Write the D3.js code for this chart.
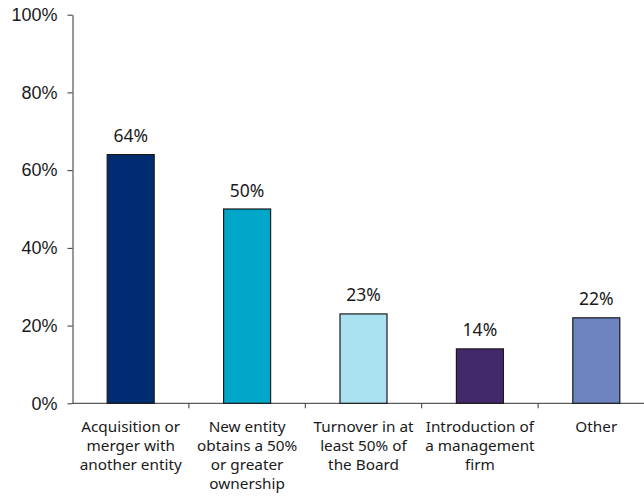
<!DOCTYPE html>
<html>
<head>
<meta charset="utf-8">
<script src="https://cdn.jsdelivr.net/npm/d3@7"></script>
<style>
  html, body { margin: 0; padding: 0; background: #fff; }
  svg { display: block; font-family: "Noto Sans", "Open Sans", sans-serif; }
</style>
</head>
<body>
<svg id="chart" width="644" height="496"></svg>
<script>
// Reasons reported for a change of control
const categories = [
  ["Acquisition or", "merger with", "another entity"],
  ["New entity", "obtains a 50%", "or greater", "ownership"],
  ["Turnover in at", "least 50% of", "the Board"],
  ["Introduction of", "a management", "firm"],
  ["Other"]
];
const values = [64, 50, 23, 14, 22];
const barColors = ["#002d72", "#00a7c8", "#a9e1f0", "#41296b", "#6e84c0"];
const yTicks = [0, 20, 40, 60, 80, 100];

const svg = d3.select("#chart");
const plotLeft = 72.5, plotTop = 14.7, plotBottom = 403.3;
const band = 116.4;
const ids = categories.map((_, i) => i);

const x = d3.scaleBand()
  .domain(ids)
  .range([plotLeft, plotLeft + band * ids.length])
  .paddingInner(0)
  .paddingOuter(0);

const y = d3.scaleLinear().domain([0, 100]).range([plotBottom, plotTop]);

const axisColor = "#333";

// y axis
const yAxis = svg.append("g")
  .attr("transform", `translate(${plotLeft},0)`)
  .call(d3.axisLeft(y).tickValues(yTicks).tickFormat(d => d + "%").tickSize(5).tickSizeOuter(0).tickPadding(10));
yAxis.select(".domain").attr("stroke", axisColor);
yAxis.selectAll(".tick line").attr("stroke", axisColor);
yAxis.selectAll(".tick text")
  .attr("fill", "#1a1a1a")
  .style("font-size", "18px");

// x axis: ticks sit at the boundaries between categories
const xAxisG = svg.append("g").attr("transform", `translate(0,${plotBottom})`);
xAxisG.append("line")
  .attr("x1", plotLeft).attr("x2", x.range()[1])
  .attr("stroke", axisColor);
xAxisG.selectAll("line.sep")
  .data(ids.slice(1))
  .join("line")
  .attr("class", "sep")
  .attr("x1", d => x(d)).attr("x2", d => x(d))
  .attr("y1", 0).attr("y2", 5)
  .attr("stroke", axisColor);

// category labels
const labels = xAxisG.selectAll("text.cat")
  .data(ids)
  .join("text")
  .attr("class", "cat")
  .attr("text-anchor", "middle")
  .attr("fill", "#1a1a1a")
  .style("font-size", "15.3px");
labels.each(function(d) {
  const t = d3.select(this);
  categories[d].forEach((line, k) => {
    t.append("tspan")
      .attr("x", x(d) + x.bandwidth() / 2)
      .attr("y", 28.4 + k * 19.1)
      .text(line);
  });
});

// bars
const barW = 47;
svg.append("g").selectAll("rect")
  .data(ids)
  .join("rect")
  .attr("x", d => x(d) + x.bandwidth() / 2 - barW / 2)
  .attr("y", d => y(values[d]))
  .attr("width", barW)
  .attr("height", d => y(0) - y(values[d]))
  .attr("fill", d => barColors[d])
  .attr("stroke", "#1a1a1a")
  .attr("stroke-width", 1.2);

// value labels
svg.append("g").selectAll("text")
  .data(ids)
  .join("text")
  .attr("x", d => x(d) + x.bandwidth() / 2)
  .attr("y", d => y(values[d]) - 12.5)
  .attr("text-anchor", "middle")
  .attr("fill", "#1a1a1a")
  .style("font-size", "17.5px")
  .text(d => values[d] + "%");
</script>
</body>
</html>
